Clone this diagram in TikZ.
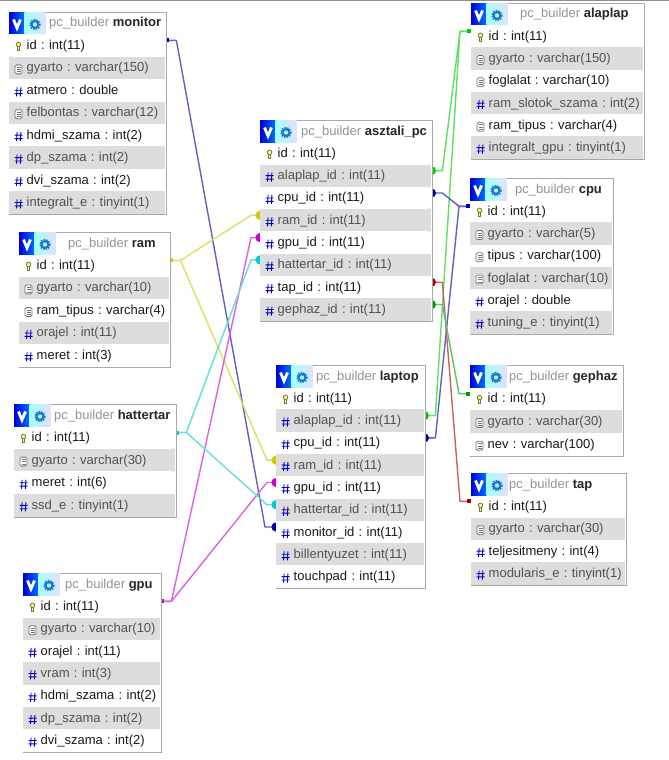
\documentclass[tikz,border=0pt]{standalone}
\usepackage{fontspec}
\setmainfont{Liberation Sans}
\frenchspacing
\usetikzlibrary{calc,backgrounds}
\definecolor{rowgray}{HTML}{DDDDDD}
\definecolor{framegray}{HTML}{A8A8A8}
\definecolor{hashblue}{HTML}{0000C8}
\definecolor{lnkgreen}{HTML}{00CC00}
\definecolor{lnkdgreen}{HTML}{009A00}
\definecolor{lnkblue}{HTML}{0000A0}
\definecolor{lnkred}{HTML}{A80000}
\definecolor{lnkyellow}{HTML}{CCCC00}
\definecolor{lnkmagenta}{HTML}{CC00CC}
\definecolor{lnkcyan}{HTML}{00CCCC}
\tikzset{
  framebox/.style={draw=framegray,line width=1pt,fill=white,inner sep=0pt,anchor=north west},
  rowbox/.style={anchor=north west,inner xsep=0pt,inner ysep=0pt,align=left,text height=10pt,text depth=2pt,font=\fontsize{13}{15}\selectfont\frenchspacing},
  titlebox/.style={anchor=west,inner sep=0pt,text height=10pt,text depth=2pt,font=\fontsize{13}{15}\selectfont\frenchspacing},
  linkline/.style={line width=1.4pt,line join=round}
}
% icons, drawn round the local origin
\newcommand{\ikohash}{%
  \draw[hashblue,line width=.9pt] (-1.4,-3)--(-2,6) (2.4,-3)--(1.8,6) (-3.8,0)--(4.2,0) (-4,3.4)--(4,3.4);}
\newcommand{\ikodoc}{%
  \draw[black!55,line width=.8pt,rounded corners=1.5pt,fill=white] (-3.5,-3)rectangle(3.5,6);
  \draw[black!55,line width=.7pt] (-2,-.5)--(2,-.5) (-2,1.7)--(2,1.7) (-2,3.9)--(2,3.9);}
\newcommand{\ikokey}{%
  \draw[black!60!yellow,fill=yellow!55!white,line width=.8pt] (0,-1) circle (2.3);
  \draw[black!60!yellow,fill=yellow!55!white,line width=.8pt] (-1.2,1.2) rectangle (1.2,5);}
% \dbtable{name}{x1}{y1}{x2}{y2}{title x}{title}{rows}
\newcommand{\dbtable}[8]{%
  \pgfmathsetmacro{\tw}{#4-(#2)}
  \pgfmathsetmacro{\th}{#5-(#3)}
  \node[framebox,minimum width=\tw pt,minimum height=\th pt] (#1) at (#2,#3) {};
  \foreach \ic/\txt [count=\ri] in {#8}{\xdef\rowcount{\ri}}
  \pgfmathsetmacro{\rh}{(#5-(#3)-22.5)/\rowcount}
  \pgfmathsetmacro{\rw}{#4-(#2)-1}
  \foreach \ic/\txt [count=\ri] in {#8}{
    \pgfmathsetmacro{\yy}{#3+22+(\ri-1)*\rh}
    \pgfmathsetmacro{\xl}{#2+.5}
    \ifodd\ri\def\rowfill{white}\def\rowink{black!90}\else\def\rowfill{rowgray}\def\rowink{black!68}\fi
    \node[rowbox,fill=\rowfill,text=\rowink,minimum height=\rh pt,text width=\rw pt] (#1-\ri) at (\xl,\yy) {\hspace*{17.5pt}\txt};
    \begin{scope}[shift={(#1-\ri.west)},xshift=9.5pt]
      \csname iko\ic\endcsname
    \end{scope}
  }
  % header
  \shade[left color=blue!85!black,right color=blue!55!cyan] ({#2+.5},{#3+.5}) rectangle ({#2+16},{#3+22});
  \shade[left color=cyan!35!white,right color=blue!12!white] ({#2+16},{#3+.5}) rectangle ({#2+37},{#3+22});
  \draw[white,line width=2.8pt,line join=miter] ({#2+5},{#3+7.5}) -- ({#2+8.5},{#3+16}) -- ({#2+12},{#3+7.5});
  \draw[cyan!60!blue,line width=1.5pt,dash pattern=on 1.5pt off 1.2pt] ({#2+26.5},{#3+12.5}) circle (5);
  \fill[cyan!60!blue] ({#2+26.5},{#3+12.5}) circle (4.5);
  \fill[cyan!25!white] ({#2+26.5},{#3+12.5}) circle (2.2);
  \node[titlebox] (#1-title) at (#6,{#3+11}) {\textcolor{black!42}{pc\_builder} \textbf{\textcolor{black!85}{#7}}};
}
% \lnk{colour}{pk row anchor}{dx}{fk row anchor}{dx}
\newcommand{\lnk}[5]{%
  \draw[linkline,#1!62!white] ([yshift=5pt]#2) -- ([xshift=#3 pt,yshift=5pt]#2) -- ([xshift=#5 pt,yshift=5pt]#4) -- ([yshift=5pt]#4);
  \fill[#1] ([yshift=5pt]#4) circle (4.6pt);
  \fill[#1] ([xshift=0pt,yshift=3pt]#2) rectangle ([xshift=#3 pt*.36,yshift=7pt]#2);
}
\begin{document}
\begin{tikzpicture}[x=1pt,y=-1pt]
\useasboundingbox (0,0) rectangle (669,760);
\begin{pgfonlayer}{background}
\fill[white] (0,0) rectangle (669,760);
\end{pgfonlayer}
\fill[black!45] (0,0) rectangle (669,1.4);

\dbtable{monitor}{8.5}{12}{165.5}{214}{49}{monitor}{key/id : int(11),doc/gyarto : varchar(150),hash/atmero : double,doc/felbontas : varchar(12),hash/hdmi\_szama : int(2),hash/dp\_szama : int(2),hash/dvi\_szama : int(2),hash/integralt\_e : tinyint(1)}
\dbtable{aszt}{259.5}{120}{431.5}{321}{301}{asztali\_pc}{key/id : int(11),hash/alaplap\_id : int(11),hash/cpu\_id : int(11),hash/ram\_id : int(11),hash/gpu\_id : int(11),hash/hattertar\_id : int(11),hash/tap\_id : int(11),hash/gephaz\_id : int(11)}
\dbtable{alaplap}{470.5}{3}{643.5}{159}{520}{alaplap}{key/id : int(11),doc/gyarto : varchar(150),doc/foglalat : varchar(10),hash/ram\_slotok\_szama : int(2),doc/ram\_tipus : varchar(4),hash/integralt\_gpu : tinyint(1)}
\dbtable{cpu}{469.5}{178}{612.5}{334}{515}{cpu}{key/id : int(11),doc/gyarto : varchar(5),doc/tipus : varchar(100),doc/foglalat : varchar(10),hash/orajel : double,hash/tuning\_e : tinyint(1)}
\dbtable{gephaz}{469.5}{365}{622.5}{456}{509}{gephaz}{key/id : int(11),doc/gyarto : varchar(30),doc/nev : varchar(100)}
\dbtable{tap}{470.5}{473}{625.5}{585}{509}{tap}{key/id : int(11),doc/gyarto : varchar(30),hash/teljesitmeny : int(4),hash/modularis\_e : tinyint(1)}
\dbtable{ram}{18.5}{232}{169.5}{367}{68}{ram}{key/id : int(11),doc/gyarto : varchar(10),doc/ram\_tipus : varchar(4),hash/orajel : int(11),hash/meret : int(3)}
\dbtable{laptop}{275.5}{365}{424.5}{588}{316}{laptop}{key/id : int(11),hash/alaplap\_id : int(11),hash/cpu\_id : int(11),hash/ram\_id : int(11),hash/gpu\_id : int(11),hash/hattertar\_id : int(11),hash/monitor\_id : int(11),hash/billentyuzet : int(11),hash/touchpad : int(11)}
\dbtable{hattertar}{13.5}{404}{175.5}{517}{54}{hattertar}{key/id : int(11),doc/gyarto : varchar(30),hash/meret : int(6),hash/ssd\_e : tinyint(1)}
\dbtable{gpu}{22.5}{573}{160.5}{752}{65}{gpu}{key/id : int(11),doc/gyarto : varchar(10),hash/orajel : int(11),hash/vram : int(3),hash/hdmi\_szama : int(2),hash/dp\_szama : int(2),hash/dvi\_szama : int(2)}

\begin{pgfonlayer}{background}
\lnk{lnkblue}{monitor-1.east}{11}{laptop-7.west}{-11}
\lnk{lnkyellow}{ram-1.east}{11}{aszt-4.west}{-9}
\lnk{lnkyellow}{ram-1.east}{11}{laptop-4.west}{-9}
\lnk{lnkmagenta}{gpu-1.east}{11}{aszt-5.west}{-9}
\lnk{lnkmagenta}{gpu-1.east}{11}{laptop-5.west}{-9}
\lnk{lnkcyan}{hattertar-1.east}{11}{aszt-6.west}{-9}
\lnk{lnkcyan}{hattertar-1.east}{11}{laptop-6.west}{-9}
\lnk{lnkgreen}{alaplap-1.west}{-11}{aszt-2.east}{11}
\lnk{lnkgreen}{alaplap-1.west}{-11}{laptop-2.east}{11}
\lnk{lnkblue}{cpu-1.west}{-11}{aszt-3.east}{11}
\lnk{lnkblue}{cpu-1.west}{-11}{laptop-3.east}{11}
\lnk{lnkred}{tap-1.west}{-11}{aszt-7.east}{11}
\lnk{lnkdgreen}{gephaz-1.west}{-11}{aszt-8.east}{11}
\end{pgfonlayer}
\end{tikzpicture}
\end{document}
